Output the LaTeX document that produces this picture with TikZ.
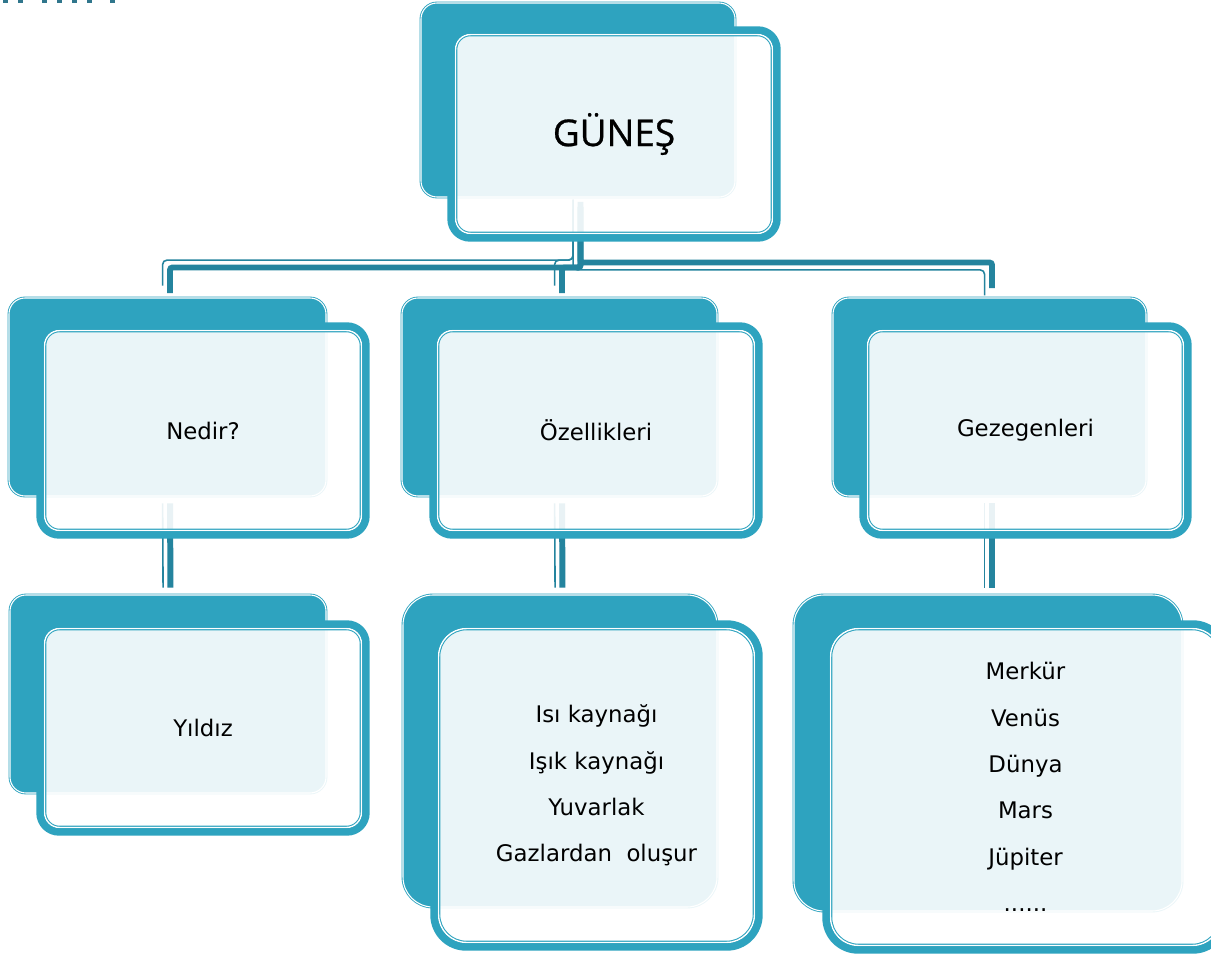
\documentclass[tikz,border=0pt]{standalone}
\usepackage{fontspec}
\setmainfont{DejaVu Sans}
\newfontfamily\titlefont[FakeBold=0.7]{Open Sans}
\usetikzlibrary{fit,backgrounds}

\definecolor{boxteal}{RGB}{46,163,191}
\definecolor{linkteal}{RGB}{36,132,158}
\definecolor{dotteal}{RGB}{48,118,140}

\tikzset{
  backbox/.style={rectangle, inner sep=0pt, fill=boxteal, draw=boxteal, double=white,
    line width=0.5pt, double distance=0.6pt, rounded corners=#1},
  backbox/.default=0.32cm,
  frontbox/.style={rectangle, inner sep=0pt, fill=white, fill opacity=0.9, text opacity=1,
    draw=boxteal, double=white, line width=0.6pt, double distance=0.8pt, rounded corners=#1,
    font=\fontsize{13}{26.4}\selectfont, align=center},
  frontbox/.default=0.3cm,
  rimline/.style={draw=boxteal, line width=4.2pt, rounded corners=#1},
  rimline/.default=0.38cm,
  linkthick/.style={draw=linkteal, line width=3.4pt, rounded corners=1.5pt,
    shorten <=4pt, shorten >=4pt},
  linkthin/.style={draw=linkteal, line width=0.9pt, rounded corners=2.5pt,
    shorten <=4pt, shorten >=4pt},
}

\begin{document}
\begin{tikzpicture}[x=0.02cm, y=-0.02cm]
		\clip (0,0) rectangle (1211,956);
		
		% dots at the top edge
		\foreach \x in {3,18,42,57,72,87,110}
		\fill[dotteal] (\x,0) rectangle +(5,3.5);
		
		% back boxes
		\node[backbox, fit={(421,3) (735,197)}] (gunesB) {};
		\node[backbox, fit={(9,298) (326,496)}] (nedirB) {};
		\node[backbox, fit={(402,298) (717,496)}] (ozellikB) {};
		\node[backbox, fit={(833,298) (1146,496)}] (gezegenB) {};
		\node[backbox, fit={(10,595) (326,793)}] (yildizB) {};
		\node[backbox=0.6cm, fit={(403,595) (717,907)}] (isiB) {};
		\node[backbox=0.6cm, fit={(794,595) (1182,911)}] (merkurB) {};
		
		% front boxes
		\node[frontbox, minimum width=6.34cm, minimum height=3.98cm,
		font=\titlefont\fontsize{21}{25}\selectfont] (gunes) at (614,134) {GÜNEŞ};
		\node[frontbox, minimum width=6.34cm, minimum height=4cm] (nedir) at (203,430.5) {Nedir?};
		\node[frontbox, minimum width=6.34cm, minimum height=4cm] (ozellik) at (596,430.5) {Özellikleri};
		\node[frontbox, minimum width=6.32cm, minimum height=4cm] (gezegen) at (1025.5,430.5) {Gezegenleri};
		\node[frontbox, minimum width=6.34cm, minimum height=3.98cm] (yildiz) at (203,728) {Yıldız};
		\node[frontbox=0.56cm, minimum width=6.32cm, minimum height=6.28cm] (isi) at (596.5,785.5)
		{Isı kaynağı\\Işık kaynağı\\Yuvarlak\\Gazlardan~ oluşur};
		\node[frontbox=0.56cm, minimum width=7.8cm, minimum height=6.34cm] (merkur) at (1025.5,787)
		{Merkür\\Venüs\\Dünya\\Mars\\Jüpiter\\......};
		
		\foreach \n in {gunes,nedir,ozellik,gezegen,yildiz}
		\draw[rimline] ([shift={(-4,4)}]\n.south west) rectangle ([shift={(4,-4)}]\n.north east);
		\foreach \n in {isi,merkur}
		\draw[rimline=0.64cm] ([shift={(-4,4)}]\n.south west) rectangle ([shift={(4,-4)}]\n.north east);
		
		% connectors behind the boxes
		\coordinate (hub) at (gunesB.south |- 0,265);
		\begin{scope}[on background layer]
		\fill[white] (0,0) rectangle (1211,956);
		\draw[linkthick, transform canvas={shift={(2.5,2.5)}}] (gunesB.south) -- (hub) -| (nedirB.north);
		\draw[linkthin, transform canvas={shift={(-4.9,-4.9)}}] (gunesB.south) -- (hub) -| (nedirB.north);
		\draw[linkthick, transform canvas={shift={(2.5,2.5)}}] (gunesB.south) -- (hub) -| (ozellikB.north);
		\draw[linkthin, transform canvas={shift={(-4.9,-4.9)}}] (gunesB.south) -- (hub) -| (ozellikB.north);
		\draw[linkthick, transform canvas={shift={(2.5,-2.5)}}] (gunesB.south) -- (hub) -| (gezegenB.north);
		\draw[linkthin, transform canvas={shift={(-4.9,4.9)}}] (gunesB.south) -- (hub) -| (gezegenB.north);
		
		\draw[linkthick, transform canvas={shift={(2.5,0)}}] (nedirB.south) -- (yildizB.north);
		\draw[linkthin, transform canvas={shift={(-4.9,0)}}] (nedirB.south) -- (yildizB.north);
		\draw[linkthick, transform canvas={shift={(2.5,0)}}] (ozellikB.south) -- (isiB.north);
		\draw[linkthin, transform canvas={shift={(-4.9,0)}}] (ozellikB.south) -- (isiB.north);
		\draw[linkthick, transform canvas={shift={(2.5,0)}}] (gezegenB.south) -- (gezegenB.south |- merkurB.north);
		\draw[linkthin, transform canvas={shift={(-4.9,0)}}] (gezegenB.south) -- (gezegenB.south |- merkurB.north);
		\end{scope}
	\end{tikzpicture}
\end{document}
